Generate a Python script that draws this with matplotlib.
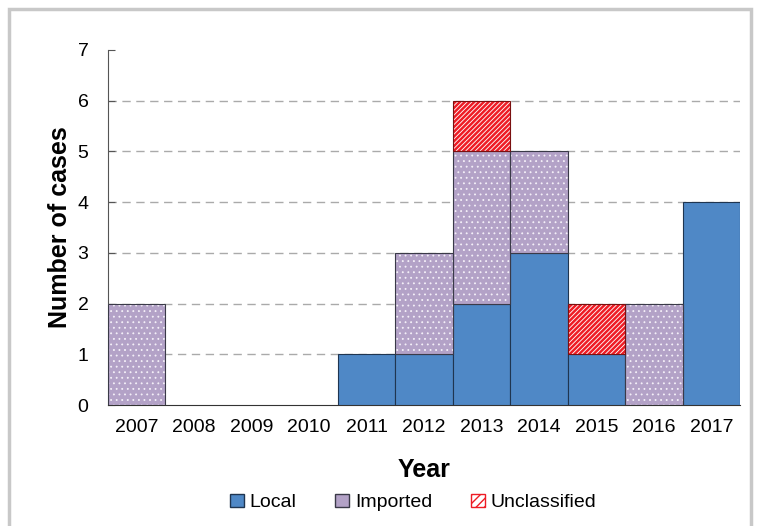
import matplotlib
matplotlib.use('Agg')
import matplotlib.pyplot as plt
from matplotlib.patches import Rectangle, Patch
import numpy as np

plt.rcParams['font.family'] = ['Liberation Sans', 'DejaVu Sans']

years = ['2007', '2008', '2009', '2010', '2011', '2012', '2013', '2014', '2015', '2016', '2017']
local = [0, 0, 0, 0, 1, 1, 2, 3, 1, 0, 4]
imported = [2, 0, 0, 0, 0, 2, 3, 2, 0, 2, 0]
unclassified = [0, 0, 0, 0, 0, 0, 1, 0, 1, 0, 0]

c_local = '#4f88c6'
c_imp = '#b3a2c7'
edge = '#3a3a48'

fig = plt.figure(figsize=(7.58, 5.26), dpi=100)
ax = fig.add_axes([0.1425, 0.230, 0.834, 0.675])

x = np.arange(len(years))
loc = np.array(local)
imp = np.array(imported)
unc = np.array(unclassified)

m = loc > 0
ax.bar(x[m], loc[m], width=1.0, color=c_local, edgecolor='#1f3550', linewidth=0.8, zorder=3)

# imported: purple with small white dots, then outline
m = imp > 0
with plt.rc_context({'hatch.linewidth': 0.6}):
    ax.bar(x[m], imp[m], width=1.0, bottom=loc[m], color=c_imp, edgecolor='#f4f0f8',
           hatch='...', linewidth=0, zorder=3)
ax.bar(x[m], imp[m], width=1.0, bottom=loc[m], fill=False, edgecolor=edge, linewidth=0.8, zorder=4)

# unclassified: red diagonal hatch on white
m = unc > 0
with plt.rc_context({'hatch.linewidth': 1.8}):
    ax.bar(x[m], unc[m], width=1.0, bottom=(loc + imp)[m], color='white', edgecolor='#ee1c25',
           hatch='///////', linewidth=0, zorder=3)
ax.bar(x[m], unc[m], width=1.0, bottom=(loc + imp)[m], fill=False, edgecolor='#7a1010',
       linewidth=0.8, zorder=4)

ax.set_xlim(-0.5, len(years) - 0.5)
ax.set_ylim(0, 7)
ax.set_yticks(range(8))
ax.set_xticks(x)
ax.set_xticklabels(years)
ax.tick_params(axis='both', labelsize=14, colors='black')
ax.tick_params(axis='x', length=0, pad=10)
ax.tick_params(axis='y', direction='in', length=5, color='#555555', pad=14)

for v in range(1, 7):
    ax.axhline(v, color='#aaaaaa', linestyle=(0, (6, 4)), linewidth=1, zorder=1)

for s in ['top', 'right']:
    ax.spines[s].set_visible(False)
ax.spines['left'].set_color('#555555')
ax.spines['bottom'].set_color('#333333')

ax.set_xlabel('Year', fontsize=18, fontweight='bold', labelpad=16)
ax.set_ylabel('Number of cases', fontsize=18, fontweight='bold', labelpad=4)

with plt.rc_context({'hatch.linewidth': 1.8}):
    handles = [
        Patch(facecolor=c_local, edgecolor='#1f3550', label='Local'),
        Patch(facecolor=c_imp, edgecolor=edge, label='Imported'),
        Patch(facecolor='white', edgecolor='#ee1c25', hatch='////', label='Unclassified'),
    ]
fig.legend(handles=handles, loc='center', bbox_to_anchor=(0.545, 0.045), ncol=3,
           frameon=False, fontsize=14, handlelength=0.7, handleheight=0.7,
           handletextpad=0.3, columnspacing=2.0)

fig.add_artist(Rectangle((9 / 758, -0.05), 742 / 758, 1 - 9 / 526 + 0.05,
                         transform=fig.transFigure, fill=False,
                         edgecolor='#c8c8c8', linewidth=2.5))

fig.savefig('out.png', dpi=100)
